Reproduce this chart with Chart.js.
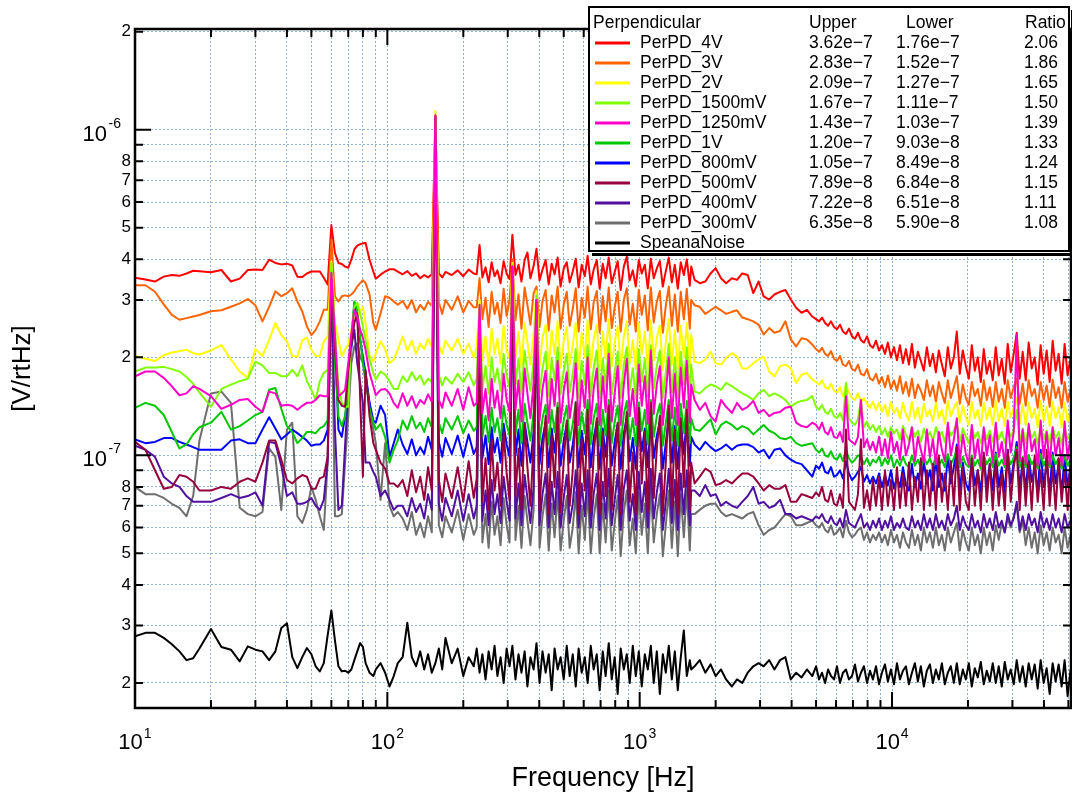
<!DOCTYPE html>
<html>
<head>
<meta charset="utf-8">
<title>PerPD - ruido perpendicular</title>
<script src="https://cdn.jsdelivr.net/npm/chart.js@4.4.0/dist/chart.umd.min.js"></script>
<style>
  html, body { margin: 0; padding: 0; background: #fff; }
</style>
</head>
<body>
<canvas id="graficoRuido" width="1072" height="799"></canvas>
<script>
// Frecuencias (Hz) de los puntos, por tramos
const frecBajas = [10,11,12,13,14,15,16,17,18,20,22,24,26,28,30,32,34,36,38,40,42,44,46,48,50,52,54,56,58,60,62,64,66,68,70,72,74,76,78,80,82,85,88,90,94,98,102,106,110];
const frecMedias = [115,120,125,130,135,140,145,150,155,160,165,170,180,190,200,210,220];
const frecDensas = [226,232,238,245,252,259,266,273,281,289,297,305,313,322,331,340,350,359,369,380,390,401,412,424,436,448,460,473,486,500,514,528,543,558,573,589,606,622,640,657,676,694,714,733,754,775,796,818,841,865,889,913,939,965,992,1019,1048,1077,1107,1137,1169,1202,1235,1269,1304,1341,1378,1416,1455,1496,1537,1580,1600];
const frecSuaves = [1650,1730,1820,1910,2000,2100,2200,2320,2430,2550,2680,2820,2960,3100,3260,3420,3600,3780,3970,4170,4380,4600,4830];
const frecAltas = [5000,5140,5280,5430,5580,5730,5890,6050,6220,6390,6570,6750,6940,7130,7330,7530,7740,7960,8180,8400,8640,8880,9120,9380,9630,9900,10180,10460,10750,11050,11350,11670,11990,12320,12660,13010,13370,13740,14130,14520,14920,15330,15760,16190,16640,17100,17580,18060,18560,19080,19610,20150,20710,21280,21870,22480,23100,23740,24400,25070,25770,26480,27220,27970,28740,29540,30360,31200,32060,32950,33870,34800,35770,36760,37780,38820,39900,41000,42140,43310,44510,45740,47010,48310,49650,51020];

// Valores en nV/rtHz (una fila por tramo de frecuencias)
const pd4V = [
  351,347,342,354,358,356,362,369,368,365,371,342,349,371,372,371,399,390,386,388,383,354,353,362,367,367,367,351,335,510,418,390,387,380,377,399,429,441,445,448,449,399,367,349,359,367,373,373,367,
  360,368,356,362,350,358,352,360,1100,362,352,366,358,370,355,372,362,
  360,443,352,378,340,392,355,370,338,395,362,348,476,358,385,342,398,420,350,382,431,345,372,398,335,388,360,405,330,375,392,340,368,402,328,385,355,410,335,372,398,325,388,350,405,338,365,395,322,380,408,345,370,330,398,362,385,326,402,350,375,395,330,368,405,340,385,325,392,358,400,332,380,
  346,338,342,362,376,350,338,350,346,362,358,315,342,308,301,312,318,322,301,284,274,280,267,
  262,258,265,255,250,258,248,244,252,240,236,245,232,228,238,226,222,232,218,214,225,210,218,205,222,200,215,196,218,192,212,190,220,186,208,195,182,215,188,205,180,210,190,175,215,185,200,240,178,210,188,172,218,182,200,168,212,178,195,170,215,176,198,166,220,180,205,238,172,208,170,222,185,200,165,218,178,210,168,225,182,205,166,220,176,200
];
const pd3V = [
  333,333,318,291,270,261,264,267,270,277,279,286,293,302,289,258,286,319,308,315,326,297,277,249,234,243,258,280,280,459,308,297,308,310,308,312,319,330,338,345,338,312,255,243,273,308,305,297,290,
  298,282,300,275,290,280,296,288,1100,295,272,300,280,308,275,298,285,
  285,350,262,305,248,318,272,295,255,325,268,300,400,260,312,245,328,290,252,315,330,248,298,322,242,310,275,330,245,290,318,250,282,326,240,305,265,330,244,295,320,238,308,258,328,246,285,318,240,300,326,252,292,240,322,270,310,242,328,256,296,320,238,288,330,250,312,240,318,262,325,245,300,
  289,286,272,279,286,279,272,276,279,265,262,258,252,235,246,238,241,258,227,216,229,227,219,
  212,208,214,205,202,209,198,195,202,190,188,195,184,182,190,178,176,184,172,170,178,166,174,162,176,160,170,158,175,155,168,152,172,150,165,158,148,170,152,164,146,168,155,145,170,150,162,175,144,165,150,143,168,152,160,142,170,148,162,141,168,146,160,140,170,150,162,172,144,166,142,170,152,160,140,168,148,164,141,171,150,162,140,168,146,160
];
const pd2V = [
  202,198,195,203,207,209,211,206,204,210,218,197,181,173,212,202,226,255,234,224,202,201,226,230,211,202,202,224,232,394,255,226,202,211,219,243,264,270,277,286,255,202,194,206,224,212,192,197,211,
  232,210,225,205,220,212,228,215,1140,218,205,225,210,228,205,220,200,
  215,300,195,232,188,245,205,228,192,250,210,198,390,200,240,186,255,222,190,238,320,188,230,252,185,242,205,258,186,225,248,190,218,256,184,238,200,260,186,228,252,183,240,198,262,188,222,250,184,232,258,192,226,184,255,205,240,185,260,196,230,250,183,222,262,190,242,184,250,200,255,186,235,
  194,192,197,208,192,190,199,206,201,185,185,192,197,201,181,175,188,190,185,167,177,179,171,
  168,165,170,162,160,166,158,156,162,152,165,156,150,148,155,146,150,144,140,146,138,145,136,143,132,146,135,140,130,145,134,128,146,130,140,126,144,132,138,127,145,130,138,125,147,132,140,146,126,142,131,124,146,130,138,123,145,129,140,124,147,128,139,123,146,131,140,150,125,143,124,145,130,139,122,147,128,141,123,146,130,140,122,145,127,138
];
const pd1500mV = [
  181,186,186,187,184,181,174,166,156,141,160,165,169,172,194,189,179,179,175,175,183,175,189,169,159,148,169,179,183,390,243,163,145,141,141,226,286,294,273,249,226,197,179,171,181,177,169,160,160,
  175,168,180,170,176,165,172,168,1100,176,164,174,166,178,168,180,164,
  172,290,160,188,155,200,168,185,158,205,175,162,385,165,198,154,210,180,158,195,310,155,185,208,152,198,170,215,154,182,205,156,178,212,150,195,165,218,152,185,210,150,198,162,220,154,180,208,150,190,215,158,185,150,212,168,198,152,218,160,188,210,150,180,220,156,200,150,208,165,215,152,190,
  157,155,161,165,163,159,167,163,159,155,152,148,155,159,152,155,152,148,141,145,147,148,152,
  141,138,143,136,134,139,132,130,135,128,167,130,126,124,129,148,122,127,120,124,118,123,116,121,114,122,117,120,112,123,116,111,122,114,119,110,121,113,118,111,122,114,118,110,123,115,119,126,110,121,114,109,122,113,118,109,121,112,119,110,123,112,118,109,122,114,119,138,110,121,109,122,113,118,108,123,112,119,109,122,113,118,108,121,112,117
];
const pd1250mV = [
  175,181,181,173,163,153,155,163,160,152,139,143,148,149,141,136,157,155,142,143,142,138,142,145,145,148,153,152,152,364,232,152,155,159,192,236,280,267,243,230,211,179,163,153,159,160,155,145,140,
  155,142,152,140,148,144,154,146,1110,148,140,156,142,160,138,162,142,
  145,290,135,160,128,172,140,158,130,178,148,136,380,138,170,127,185,155,130,168,300,128,160,182,126,172,142,195,126,158,180,130,152,192,124,170,140,200,125,160,185,124,175,136,205,127,155,188,124,165,198,132,160,124,190,142,175,125,210,134,165,188,124,155,200,130,178,124,186,140,195,126,165,
  148,138,145,132,127,148,141,135,145,138,141,147,135,138,132,135,136,140,141,126,123,122,126,
  124,120,126,118,116,122,114,113,118,110,152,112,110,108,114,148,106,112,104,110,102,114,100,112,98,118,102,110,97,120,100,108,122,96,114,104,95,120,99,112,94,118,104,96,126,100,112,130,95,116,101,94,124,98,112,93,122,100,115,95,126,99,110,94,128,102,118,235,96,120,94,125,103,112,93,128,98,118,94,122,100,113,93,127,97,116
];
const pd1V = [
  140,145,142,133,118,105,108,116,122,126,136,120,123,128,133,136,159,161,139,123,118,109,113,118,118,117,121,123,128,380,192,132,123,132,167,232,297,280,232,192,175,139,126,120,125,114,95,104,111,
  128,120,132,121,126,118,130,122,1100,126,117,130,120,132,117,128,119,
  122,270,114,132,110,140,118,130,111,142,124,115,380,116,138,109,144,126,111,136,300,110,130,143,108,138,118,145,109,128,142,111,125,146,108,136,117,148,108,130,144,107,138,115,148,109,127,142,107,134,147,112,130,107,145,119,138,108,148,114,132,144,107,126,148,111,140,107,144,117,147,109,130,
  120,119,124,129,116,124,127,124,120,123,121,116,120,124,119,117,113,112,114,109,107,108,109,
  104,102,105,100,99,103,98,97,101,96,104,98,95,97,100,99,94,98,93,97,95,99,93,98,94,100,92,97,93,99,94,92,100,93,97,92,99,94,98,92,100,93,97,92,101,94,98,104,92,99,94,92,100,93,97,91,100,94,98,92,101,93,97,92,100,94,98,106,92,99,92,100,94,97,91,101,93,98,92,100,94,98,91,100,93,97
];
const pd800mV = [
  112,109,110,113,113,110,108,106,104,104,104,111,112,109,109,120,131,121,112,116,120,117,114,111,107,108,108,111,120,390,232,120,114,132,152,216,294,261,226,201,179,145,128,126,142,133,99,109,120,
  108,101,112,100,106,101,114,104,1100,110,99,113,101,115,99,116,101,
  106,260,98,115,94,122,102,113,95,125,108,99,380,100,120,93,126,110,95,118,300,94,113,126,92,121,102,128,93,111,125,95,108,129,92,119,101,130,92,113,127,91,121,99,131,93,110,125,91,117,130,96,113,91,128,103,121,92,131,98,115,127,91,109,131,95,123,91,127,101,130,93,114,
  108,104,110,106,103,105,108,104,107,108,108,106,102,104,98,104,105,100,97,95,94,90,86,
  93,91,95,89,88,92,86,87,90,85,96,88,84,86,89,92,83,87,82,86,82,88,80,87,81,90,79,86,80,92,81,78,94,80,88,79,96,82,90,78,98,80,88,78,100,82,92,108,78,95,82,78,98,81,90,77,100,80,94,78,102,80,92,77,104,82,95,110,78,98,78,100,83,92,77,104,80,95,78,102,82,94,77,100,80,92
];
const pd500mV = [
  110,104,90,79,80,87,86,83,78,78,80,79,83,85,83,95,111,111,97,84,82,85,87,86,79,79,85,86,99,347,211,148,142,141,183,221,255,273,152,86,183,132,109,104,95,91,82,82,80,
  84,75,90,77,86,73,92,78,1100,84,72,88,74,92,72,96,74,
  85,250,72,98,68,112,78,95,70,118,88,73,380,75,105,68,125,92,70,110,300,68,100,132,66,115,80,140,67,96,128,70,90,145,66,112,78,138,67,100,130,66,118,75,142,68,95,126,66,108,136,72,102,66,140,82,118,67,145,74,105,132,66,95,142,70,120,66,130,80,138,68,95,
  82,86,91,89,81,82,84,82,85,88,88,86,82,78,81,79,79,81,72,72,76,75,74,
  77,75,80,73,72,78,71,70,76,69,120,72,70,68,76,112,69,78,68,84,70,86,68,90,70,84,68,92,69,88,70,95,68,86,72,98,68,90,70,94,68,100,72,88,68,96,70,106,68,92,72,68,98,70,90,68,102,72,94,68,96,70,88,68,104,72,92,104,68,98,70,95,68,100,72,90,68,104,70,92,68,98,72,90,68,100
];
const pd400mV = [
  107,104,99,86,82,80,75,72,72,72,74,76,74,75,77,70,110,109,93,75,77,71,71,72,74,70,68,73,96,347,120,68,70,107,159,216,243,192,167,145,95,95,89,86,75,78,73,68,70,
  70,65,74,67,71,64,76,68,1100,71,63,74,65,78,63,76,64,
  70,240,63,78,61,84,66,76,62,86,72,63,370,64,82,61,87,74,62,80,300,61,76,88,60,83,66,89,60,74,87,62,71,90,60,82,65,90,60,76,88,59,83,64,91,61,73,87,59,79,90,63,76,59,89,67,83,60,91,64,77,88,59,72,91,62,84,59,88,66,90,61,78,
  78,75,81,75,76,70,72,70,69,72,75,80,71,72,69,70,73,66,66,64,65,64,63,
  65,64,66,63,62,65,62,61,64,60,68,62,61,60,63,66,60,62,59,63,60,64,59,63,60,65,59,62,60,64,60,59,65,60,63,59,66,60,64,59,66,60,63,59,66,61,64,70,59,65,61,59,66,60,63,58,66,60,64,59,67,60,63,58,66,61,64,72,59,65,59,66,61,64,58,67,60,64,59,66,60,64,58,66,60,63
];
const pd300mV = [
  80,76,76,74,71,69,65,75,111,155,157,145,69,66,65,67,105,99,68,120,126,65,62,68,80,73,65,59,95,338,65,65,66,95,132,192,216,221,201,192,167,145,120,109,73,109,70,65,67,
  64,59,67,57,62,56,65,58,1100,61,56,65,58,68,55,66,57,
  60,230,54,66,52,72,57,65,53,74,61,54,360,55,70,52,75,63,53,68,280,52,65,76,51,71,56,77,51,63,75,52,60,77,50,70,55,78,50,64,76,50,71,54,78,51,62,75,49,67,78,53,64,50,77,57,71,50,79,54,66,76,49,61,78,52,72,49,76,56,78,51,66,
  66,68,70,71,71,67,65,66,65,64,66,67,61,57,59,60,63,66,65,61,61,62,63,
  61,60,62,59,58,61,57,58,60,56,63,58,56,57,59,60,55,58,54,57,55,58,54,57,53,59,54,57,52,58,54,52,59,53,57,51,60,54,58,52,60,53,57,51,60,54,58,62,51,59,54,51,60,53,57,50,60,53,58,51,61,55,62,58,64,60,65,70,58,63,53,60,52,58,50,61,53,58,51,60,54,57,50,60,52,57
];
const speanaNoise = [
  27.8,28.5,28.5,27.5,26.3,25,23.5,23.8,25.5,29.3,25.8,25.3,23.3,25.9,25.3,25,23.5,25,29.5,30.5,24,22.2,24,25.6,24.5,22.5,21.7,23,28,33.4,27,22.5,21.7,21.8,21.5,22,23.5,25,26.5,25.8,23,21.5,21,22,23,21.5,19.5,21,23,
  24,30.6,24,22.5,25,22,24.5,21.5,23,25.5,22,27.5,23,25.5,21,24,22.5,
  25.5,21.5,24.5,20.5,25,22,26,21,24,20,25.5,22.5,26,20.5,24.5,21.5,25,19.5,24,22,26.5,20,25,21.5,24.5,19,25.5,22,24,20.5,26,21,24.5,19.5,25.5,21.5,24,20,26,22,24.5,19,25,21,26.5,20.5,24,18.5,25.5,22,24.5,20,26,21,25,19.5,24.5,22,26,20,25,18.5,24.5,21.5,26,20.5,25,19,24,29,21,23.5,22,
  22.5,23.5,21.5,22.8,21,22,20.5,19.5,20.5,20,21.5,22.5,23,22.5,23.5,22,23.5,24,20.5,21.5,20.8,22,21,
  22.5,20.5,21.5,20,22,21,20.5,22.5,20,21.5,22,20.5,21,22.8,20.2,21.5,22.5,20,21.8,20.5,22.5,19.8,21.5,22.8,20.2,22,19.8,23,20.5,21.8,22.5,19.8,21.5,23,20.2,22.5,19.5,21.8,22.8,20,22,20.5,23,19.8,21.5,22.5,20,23,19.8,22,20.5,23,19.5,22.2,20.8,23.2,19.8,21.8,20.2,23,20,22.5,19.5,23.2,20.5,22,19.8,23.5,20.2,22.5,19.5,23,20.5,22.8,19.2,23.5,20,22.2,18.5,23,20.2,22.8,19.5,23.5,18.2,22
];

// Columnas de la leyenda
const nombres = ['PerPD_4V','PerPD_3V','PerPD_2V','PerPD_1500mV','PerPD_1250mV','PerPD_1V','PerPD_800mV','PerPD_500mV','PerPD_400mV','PerPD_300mV','SpeanaNoise'];
const superior = ['3.62e\u22127','2.83e\u22127','2.09e\u22127','1.67e\u22127','1.43e\u22127','1.20e\u22127','1.05e\u22127','7.89e\u22128','7.22e\u22128','6.35e\u22128',''];
const inferior = ['1.76e\u22127','1.52e\u22127','1.27e\u22127','1.11e\u22127','1.03e\u22127','9.03e\u22128','8.49e\u22128','6.84e\u22128','6.51e\u22128','5.90e\u22128',''];
const razon = ['2.06','1.86','1.65','1.50','1.39','1.33','1.24','1.15','1.11','1.08',''];

// Marcas de los ejes
const ticksX = [10,20,30,40,50,60,70,80,90,100,200,300,400,500,600,700,800,900,1000,2000,3000,4000,5000,6000,7000,8000,9000,10000,20000,30000,40000,50000];
const ticksY = [2e-8,3e-8,4e-8,5e-8,6e-8,7e-8,8e-8,9e-8,1e-7,2e-7,3e-7,4e-7,5e-7,6e-7,7e-7,8e-7,9e-7,1e-6,2e-6];

const FUENTE = '"Liberation Sans", Arial, sans-serif';

// Estilo de cada curva (z menor = se dibuja encima)
const estilos = [
  {valores: pd4V, color: '#ff0000', z: 6},
  {valores: pd3V, color: '#ff6400', z: 5},
  {valores: pd2V, color: '#ffff00', z: 4},
  {valores: pd1500mV, color: '#80ff00', z: 3},
  {valores: pd1250mV, color: '#ff00c8', z: 1},
  {valores: pd1V, color: '#00c800', z: 7},
  {valores: pd800mV, color: '#0000ff', z: 8},
  {valores: pd500mV, color: '#96003c', z: 2},
  {valores: pd400mV, color: '#5010a0', z: 9},
  {valores: pd300mV, color: '#6e6e6e', z: 10},
  {valores: speanaNoise, color: '#000000', z: 11}
];

const frecuencias = [...frecBajas, ...frecMedias, ...frecDensas, ...frecSuaves, ...frecAltas];

function esDecada(v) {
  const e = Math.log10(v);
  return Math.abs(e - Math.round(e)) < 1e-6;
}

// Marco, marcas hacia adentro y etiquetas 10^n
const marcoEjes = {
  id: 'marcoEjes',
  afterDatasetsDraw(chart) {
    const {ctx, chartArea: a, scales: {x, y}} = chart;
    ctx.save();
    ctx.strokeStyle = '#000';
    ctx.lineWidth = 2;
    ctx.beginPath();
    x.ticks.forEach(t => {
      const px = x.getPixelForValue(t.value);
      const largo = esDecada(t.value) ? 16 : 8;
      ctx.moveTo(px, a.bottom); ctx.lineTo(px, a.bottom - largo);
      ctx.moveTo(px, a.top); ctx.lineTo(px, a.top + largo);
    });
    y.ticks.forEach(t => {
      const py = y.getPixelForValue(t.value);
      const largo = esDecada(t.value) ? 16 : 8;
      ctx.moveTo(a.left, py); ctx.lineTo(a.left + largo, py);
      ctx.moveTo(a.right, py); ctx.lineTo(a.right - largo, py);
    });
    ctx.stroke();
    ctx.lineWidth = 2.5;
    ctx.strokeRect(a.left, a.top, a.right - a.left, a.bottom - a.top);

    ctx.fillStyle = '#000';
    ctx.textBaseline = 'middle';
    ctx.textAlign = 'left';
    x.ticks.filter(t => esDecada(t.value)).forEach(t => {
      const px = x.getPixelForValue(t.value);
      const exp = String(Math.round(Math.log10(t.value)));
      ctx.font = '22px ' + FUENTE;
      const w1 = ctx.measureText('10').width;
      ctx.font = '14px ' + FUENTE;
      const w2 = ctx.measureText(exp).width;
      const x0 = px - (w1 + w2 + 1) / 2;
      ctx.font = '22px ' + FUENTE;
      ctx.fillText('10', x0, 743);
      ctx.font = '14px ' + FUENTE;
      ctx.fillText(exp, x0 + w1 + 1, 734);
    });
    y.ticks.filter(t => esDecada(t.value)).forEach(t => {
      const py = y.getPixelForValue(t.value);
      const exp = String(Math.round(Math.log10(t.value)));
      ctx.font = '22px ' + FUENTE;
      ctx.textAlign = 'right';
      ctx.fillText('10', 107, py + 5);
      ctx.font = '14px ' + FUENTE;
      ctx.textAlign = 'left';
      ctx.fillText(exp, 108.5, py - 6);
    });
    ctx.restore();
  }
};

// Leyenda con columnas Upper / Lower / Ratio
const leyenda = {
  id: 'leyenda',
  afterDraw(chart) {
    const ctx = chart.ctx;
    ctx.save();
    ctx.fillStyle = '#000';
    ctx.fillRect(1071, 10, 3, 247);
    ctx.fillRect(592, 253, 482, 3);
    ctx.fillStyle = '#fff';
    ctx.fillRect(589, 7, 480, 244);
    ctx.strokeStyle = '#000';
    ctx.lineWidth = 2;
    ctx.strokeRect(589, 7, 480, 244);

    ctx.font = '17.5px ' + FUENTE;
    ctx.textBaseline = 'middle';
    ctx.textAlign = 'left';
    ctx.fillStyle = '#000';
    ctx.fillText('Perpendicular', 593, 23);
    ctx.fillText('Upper', 809, 23);
    ctx.fillText('Lower', 906, 23);
    ctx.fillText('Ratio', 1025, 23);
    nombres.forEach((n, i) => {
      const yy = 43 + 20 * i;
      ctx.strokeStyle = estilos[i].color;
      ctx.lineWidth = 3;
      ctx.beginPath();
      ctx.moveTo(595, yy);
      ctx.lineTo(630, yy);
      ctx.stroke();
      ctx.fillText(n, 640, yy);
      ctx.fillText(superior[i], 809, yy);
      ctx.fillText(inferior[i], 896, yy);
      ctx.fillText(razon[i], 1024, yy);
    });
    ctx.restore();
  }
};

const ctx = document.getElementById('graficoRuido').getContext('2d');
new Chart(ctx, {
  type: 'line',
  data: {
    datasets: estilos.map((s, k) => ({
      label: nombres[k],
      data: frecuencias.map((f, i) => ({x: f, y: s.valores[i] * 1e-9})),
      borderColor: s.color,
      borderWidth: 2,
      borderJoinStyle: 'round',
      pointRadius: 0,
      tension: 0,
      fill: false,
      order: s.z
    }))
  },
  options: {
    responsive: false,
    animation: false,
    events: [],
    layout: { padding: { top: 29, right: 1, left: 0, bottom: 0 } },
    plugins: {
      legend: { display: false },
      tooltip: { enabled: false }
    },
    scales: {
      x: {
        type: 'logarithmic',
        min: 10,
        max: 51200,
        afterBuildTicks: s => { s.ticks = ticksX.map(v => ({value: v})); },
        afterFit: s => { s.height = 91; },
        ticks: { display: false, autoSkip: false },
        grid: { color: '#8eb2d6', lineWidth: 1, drawTicks: false },
        border: { display: false, dash: [2, 2] },
        title: {
          display: true,
          text: 'Frequency [Hz]',
          color: '#000',
          font: { family: FUENTE, size: 27 },
          padding: { top: 0, bottom: 4 }
        }
      },
      y: {
        type: 'logarithmic',
        min: 1.675e-8,
        max: 2.04e-6,
        afterBuildTicks: s => { s.ticks = ticksY.map(v => ({value: v})); },
        afterFit: s => { s.width = 135; },
        ticks: {
          autoSkip: false,
          color: '#000',
          padding: 4,
          font: { family: FUENTE, size: 17 },
          callback: v => {
            if (esDecada(v)) return '';
            const m = Math.round(v / Math.pow(10, Math.floor(Math.log10(v) + 1e-9)));
            return m === 9 ? '' : String(m);
          }
        },
        grid: { color: '#8eb2d6', lineWidth: 1, drawTicks: false },
        border: { display: false, dash: [2, 2] },
        title: {
          display: true,
          text: '[V/rtHz]',
          color: '#000',
          font: { family: FUENTE, size: 26 },
          padding: { top: 7, bottom: 0 }
        }
      }
    }
  },
  plugins: [marcoEjes, leyenda]
});
</script>
</body>
</html>
